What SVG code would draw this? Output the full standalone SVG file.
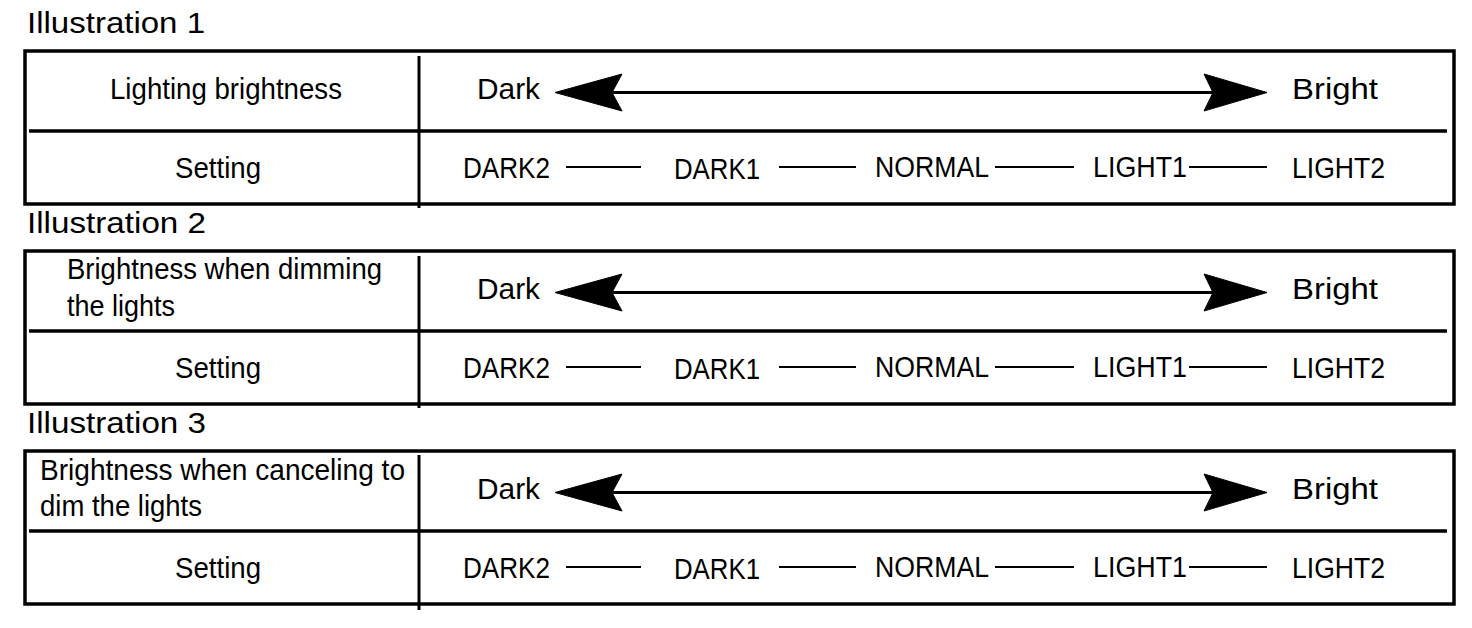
<svg xmlns="http://www.w3.org/2000/svg" width="1472" height="628" viewBox="0 0 1472 628">
<style>
text{font-family:"Liberation Sans",Arial,sans-serif;font-size:29px;fill:#000}
.frame{fill:none;stroke:#000;stroke-width:3.5}
.div{stroke:#000;stroke-width:3.5;fill:none}
.vdiv{stroke:#000;stroke-width:3;fill:none}
.shaft{stroke:#000;stroke-width:3;fill:none}
.dash{stroke:#000;stroke-width:1.8;fill:none}
.head{fill:#000;stroke:#000;stroke-width:1;stroke-linejoin:miter}
</style>
<defs>
<path id="headL" class="head" d="M555,92.5 L622,74 L612,92.5 L622,111 Z"/>
<path id="headR" class="head" d="M1267,92.5 L1204,74 L1213,92.5 L1204,111 Z"/>
<g id="scale">
<line class="shaft" x1="606" y1="92.5" x2="1216" y2="92.5"/>
<use href="#headL"/>
<use href="#headR"/>
<text x="477" y="99" textLength="63" lengthAdjust="spacingAndGlyphs">Dark</text>
<text x="1292" y="99" textLength="86" lengthAdjust="spacingAndGlyphs">Bright</text>
</g>
<g id="settings">
<text x="463" y="178" textLength="87" lengthAdjust="spacingAndGlyphs">DARK2</text>
<line class="dash" x1="566" y1="167" x2="641" y2="167"/>
<text x="674" y="179" textLength="86" lengthAdjust="spacingAndGlyphs">DARK1</text>
<line class="dash" x1="779" y1="167" x2="856" y2="167"/>
<text x="875" y="177" textLength="114" lengthAdjust="spacingAndGlyphs">NORMAL</text>
<line class="dash" x1="995" y1="167" x2="1074" y2="167"/>
<text x="1093" y="177" textLength="94" lengthAdjust="spacingAndGlyphs">LIGHT1</text>
<line class="dash" x1="1189" y1="167" x2="1267" y2="167"/>
<text x="1292" y="178" textLength="93" lengthAdjust="spacingAndGlyphs">LIGHT2</text>
<text x="175" y="178" textLength="86" lengthAdjust="spacingAndGlyphs">Setting</text>
</g>
<g id="frameBase">
<rect class="frame" x="25" y="51" width="1429" height="153"/>
<line class="div" x1="29" y1="131" x2="1447" y2="131"/>
</g>
</defs>

<g id="illustration1">
<text x="27" y="33" textLength="178" lengthAdjust="spacingAndGlyphs">Illustration 1</text>
<g id="table1">
<use href="#frameBase"/>
<line class="vdiv" x1="419" y1="56" x2="419" y2="208"/>
<text x="110" y="99" textLength="232" lengthAdjust="spacingAndGlyphs">Lighting brightness</text>
<use href="#scale"/>
<use href="#settings"/>
</g>
</g>

<g id="illustration2">
<text x="27" y="233" textLength="179" lengthAdjust="spacingAndGlyphs">Illustration 2</text>
<g id="table2" transform="translate(0,200)">
<use href="#frameBase"/>
<line class="vdiv" x1="419" y1="56" x2="419" y2="208"/>
<text x="67" y="79" textLength="315" lengthAdjust="spacingAndGlyphs">Brightness when dimming</text>
<text x="67" y="116" textLength="108" lengthAdjust="spacingAndGlyphs">the lights</text>
<use href="#scale"/>
<use href="#settings"/>
</g>
</g>

<g id="illustration3">
<text x="27" y="433" textLength="179" lengthAdjust="spacingAndGlyphs">Illustration 3</text>
<g id="table3" transform="translate(0,400)">
<use href="#frameBase"/>
<line class="vdiv" x1="419" y1="55" x2="419" y2="210"/>
<text x="40" y="80" textLength="365" lengthAdjust="spacingAndGlyphs">Brightness when canceling to</text>
<text x="40" y="116" textLength="162" lengthAdjust="spacingAndGlyphs">dim the lights</text>
<use href="#scale"/>
<use href="#settings"/>
</g>
</g>
</svg>
